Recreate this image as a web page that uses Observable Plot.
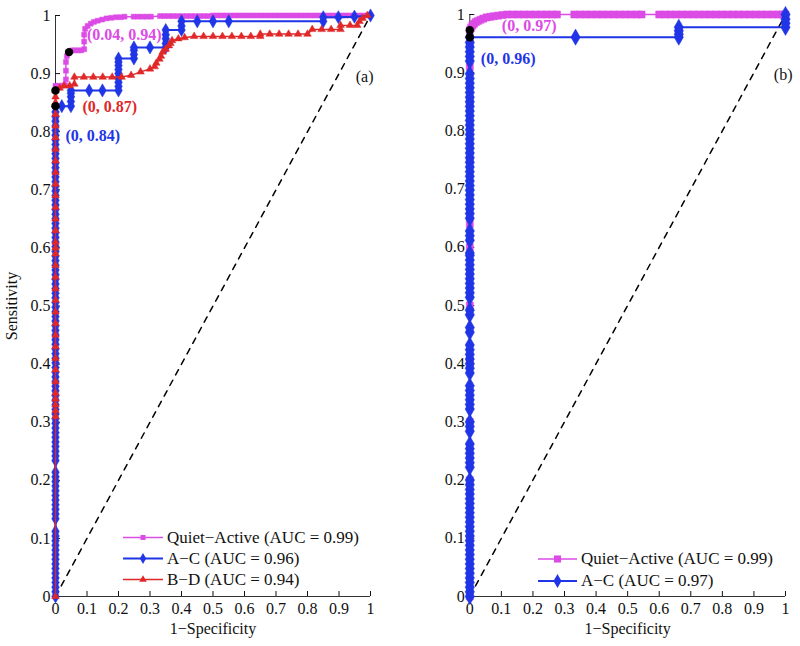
<!DOCTYPE html>
<html><head><meta charset="utf-8">
<script src="https://cdn.jsdelivr.net/npm/d3@7"></script>
<script src="https://cdn.jsdelivr.net/npm/@observablehq/plot@0.6"></script>
<style>
body{margin:0;background:#fff;}
#wrap{position:relative;width:800px;height:646px;display:flex;font-family:"Liberation Serif","Times New Roman",serif;}
.legend{position:absolute;font-size:17px;color:#111;}
.legend .row{display:flex;align-items:center;white-space:nowrap;}
</style></head><body><div id="wrap"></div><script>
// ---------- data ----------
const xTicks = [0,0.1,0.2,0.3,0.4,0.5,0.6,0.7,0.8,0.9,1];
const yTicks = [0,0.1,0.2,0.3,0.4,0.5,0.6,0.7,0.8,0.9,1];
const diagonal = [[0,0],[1,1]];

// Panel (a)
const quietActiveA = [[0,0],[0,0.1],[0,0.2],[0,0.3],[0,0.36],[0,0.45],[0,0.55],[0,0.65],[0,0.75],[0,0.82],[0,0.879],[0.01,0.879],[0.02,0.879],[0.03,0.88],[0.033,0.89],[0.033,0.905],[0.033,0.92],[0.036,0.93],[0.043,0.937],[0.052,0.94],[0.062,0.94],[0.072,0.94],[0.082,0.94],[0.091,0.942],[0.091,0.955],[0.091,0.967],[0.094,0.977],[0.102,0.982],[0.112,0.986],[0.122,0.989],[0.134,0.991],[0.148,0.993],[0.162,0.995],[0.177,0.996],[0.192,0.997],[0.207,0.997],[0.219,0.998],[0.248,0.998],[0.262,0.998],[0.276,0.998],[0.29,0.998],[0.303,0.998],[0.332,0.999],[0.346,0.999],[0.36,0.999],[0.374,0.999],[0.388,0.999],[0.402,0.999],[0.416,0.999],[0.43,0.999],[0.444,0.999],[0.458,0.999],[0.472,0.999],[0.486,0.999],[0.5,1],[0.514,1],[0.528,1],[0.542,1],[0.556,1],[0.57,1],[0.584,1],[0.598,1],[0.612,1],[0.626,1],[0.64,1],[0.654,1],[0.668,1],[0.682,1],[0.696,1],[0.71,1],[0.724,1],[0.738,1],[0.752,1],[0.766,1],[0.78,1],[0.794,1],[0.808,1],[0.822,1],[0.836,1],[0.85,1],[0.864,1],[0.878,1],[0.892,1],[0.906,1],[0.92,1],[0.934,1],[0.948,1],[0.962,1],[0.976,1],[0.99,1],[1,1]];
// A-C, sensitivities reached at 1-specificity = 0
const acA_atZero = [0,0.008,0.016,0.024,0.032,0.04,0.048,0.056,0.064,0.072,0.08,0.088,0.096,0.104,0.112,0.134,0.142,0.15,0.158,0.166,0.174,0.182,0.19,0.198,0.206,0.214,0.234,0.242,0.25,0.258,0.266,0.274,0.282,0.29,0.298,0.306,0.314,0.322,0.33,0.338,0.346,0.354,0.362,0.37,0.378,0.386,0.394,0.402,0.41,0.418,0.426,0.434,0.442,0.45,0.458,0.466,0.474,0.482,0.49,0.498,0.506,0.514,0.522,0.53,0.538,0.546,0.554,0.562,0.57,0.578,0.586,0.594,0.602,0.61,0.618,0.626,0.634,0.642,0.65,0.658,0.666,0.674,0.682,0.69,0.698,0.706,0.714,0.722,0.73,0.738,0.746,0.754,0.762,0.77,0.778,0.786,0.794,0.802,0.81,0.818,0.826,0.834,0.844];
const acA_rest = [[0.02,0.844],[0.049,0.844],[0.049,0.852],[0.049,0.86],[0.049,0.866],[0.049,0.871],[0.107,0.871],[0.149,0.871],[0.2,0.871],[0.2,0.878],[0.2,0.885],[0.2,0.892],[0.2,0.9],[0.2,0.907],[0.2,0.914],[0.2,0.92],[0.2,0.926],[0.249,0.926],[0.249,0.933],[0.249,0.94],[0.249,0.945],[0.3,0.945],[0.35,0.945],[0.35,0.952],[0.35,0.96],[0.35,0.967],[0.35,0.975],[0.4,0.975],[0.4,0.982],[0.4,0.99],[0.45,0.99],[0.5,0.99],[0.55,0.99],[0.85,0.99],[0.85,0.997],[0.898,0.997],[0.949,0.998],[1,1]];
const bdA = [[0,0],[0,0.31],[0,0.32],[0,0.33],[0,0.34],[0,0.35],[0,0.37],[0,0.39],[0,0.41],[0,0.43],[0,0.45],[0,0.47],[0,0.49],[0,0.51],[0,0.53],[0,0.55],[0,0.57],[0,0.59],[0,0.6],[0,0.61],[0,0.63],[0,0.65],[0,0.67],[0,0.69],[0,0.71],[0,0.73],[0,0.75],[0,0.77],[0,0.79],[0,0.81],[0,0.83],[0,0.85],[0,0.86],[0,0.871],[0.013,0.875],[0.027,0.879],[0.045,0.879],[0.06,0.882],[0.06,0.894],[0.09,0.894],[0.12,0.894],[0.15,0.894],[0.18,0.894],[0.21,0.894],[0.24,0.897],[0.27,0.903],[0.3,0.908],[0.315,0.912],[0.32,0.918],[0.33,0.925],[0.335,0.93],[0.34,0.937],[0.35,0.942],[0.36,0.948],[0.365,0.952],[0.37,0.957],[0.39,0.96],[0.41,0.962],[0.44,0.964],[0.47,0.964],[0.5,0.964],[0.53,0.964],[0.56,0.964],[0.59,0.964],[0.62,0.964],[0.65,0.964],[0.65,0.968],[0.68,0.968],[0.71,0.968],[0.74,0.968],[0.77,0.968],[0.8,0.968],[0.815,0.976],[0.845,0.976],[0.875,0.976],[0.905,0.976],[0.905,0.983],[0.935,0.983],[0.958,0.983],[0.965,0.99],[0.975,0.995],[0.99,1]];
const cutoffsA = [[0.043,0.937],[0,0.871],[0,0.844]];
const labelsA = ["(0.04, 0.94)","(0, 0.87)","(0, 0.84)"];
const legendA = ["Quiet\u2212Active (AUC = 0.99)","A\u2212C (AUC = 0.96)","B\u2212D (AUC = 0.94)"];

// Panel (b)
const quietActiveB = [[0,0],[0,0.1],[0,0.2],[0,0.3],[0,0.4],[0,0.5],[0,0.6],[0,0.64],[0,0.75],[0,0.85],[0,0.91],[0,0.95],[0,0.973],[0.004,0.977],[0.008,0.981],[0.013,0.984],[0.019,0.987],[0.026,0.989],[0.034,0.991],[0.043,0.993],[0.053,0.995],[0.064,0.996],[0.076,0.997],[0.089,0.998],[0.103,0.999],[0.118,1],[0.136,1],[0.154,1],[0.172,1],[0.19,1],[0.208,1],[0.226,1],[0.244,1],[0.262,1],[0.276,1],[0.331,1],[0.349,1],[0.367,1],[0.385,1],[0.403,1],[0.421,1],[0.439,1],[0.457,1],[0.475,1],[0.493,1],[0.511,1],[0.529,1],[0.544,1],[0.6,1],[0.618,1],[0.636,1],[0.654,1],[0.672,1],[0.69,1],[0.708,1],[0.726,1],[0.744,1],[0.762,1],[0.78,1],[0.798,1],[0.816,1],[0.834,1],[0.852,1],[0.87,1],[0.888,1],[0.906,1],[0.924,1],[0.942,1],[0.96,1],[0.978,1],[0.99,1],[1,1]];
const acB_atZero = [0,0.008,0.016,0.024,0.032,0.04,0.048,0.056,0.064,0.072,0.08,0.088,0.096,0.104,0.112,0.12,0.128,0.136,0.144,0.152,0.16,0.168,0.176,0.184,0.192,0.2,0.222,0.23,0.238,0.246,0.254,0.262,0.284,0.292,0.3,0.322,0.33,0.338,0.346,0.354,0.362,0.384,0.392,0.4,0.408,0.416,0.424,0.432,0.454,0.462,0.484,0.492,0.514,0.522,0.53,0.538,0.546,0.554,0.562,0.57,0.578,0.586,0.59,0.612,0.62,0.628,0.65,0.658,0.666,0.674,0.682,0.69,0.698,0.706,0.714,0.722,0.73,0.738,0.746,0.754,0.762,0.77,0.778,0.786,0.794,0.802,0.81,0.818,0.826,0.834,0.842,0.85,0.858,0.866,0.874,0.882,0.89,0.898,0.92,0.928,0.936,0.944,0.952,0.961];
const acB_rest = [[0.335,0.961],[0.662,0.961],[0.662,0.966],[0.662,0.972],[0.662,0.978],[1,0.978],[1,0.985],[1,0.992],[1,1]];
const cutoffsB = [[0,0.973],[0,0.961]];
const labelsB = ["(0, 0.97)","(0, 0.96)"];
const legendB = ["Quiet\u2212Active (AUC = 0.99)","A\u2212C (AUC = 0.97)"];

const acA = [...acA_atZero.map(y => [0, y]), ...acA_rest];
const acB = [...acB_atZero.map(y => [0, y]), ...acB_rest];

// ---------- styling ----------
const MAG = "#dc4be6", BLUE = "#1f35e6", RED = "#e02828";
const fmt = d => String(d);
const FONT = "Liberation Serif, Times New Roman, serif";

function series(data, color, symbol, r, lw) {
  return [
    Plot.line(data, {x: d => d[0], y: d => d[1], stroke: color, strokeWidth: lw}),
    Plot.dot(data, {x: d => d[0], y: d => d[1], symbol, r, fill: color, stroke: color, strokeWidth: 0.5})
  ];
}
function annot(pts, texts, colors, offsets) {
  return pts.map((p, i) => Plot.text([p], {x: d => d[0], y: d => d[1], text: () => texts[i], fill: colors[i],
    fontWeight: "bold", fontSize: 16, textAnchor: "start", dx: offsets[i][0], dy: offsets[i][1]}));
}

function panel(opts) {
  return Plot.plot({
    width: 400, height: 646,
    marginTop: opts.mt, marginBottom: 50, marginLeft: opts.ml, marginRight: opts.mr,
    x: {domain: [0, 1]}, y: {domain: [0, 1]},
    style: {fontFamily: FONT, fontSize: "16px", background: "white", color: "#111"},
    marks: [
      Plot.ruleX([0], {stroke: "#333"}),
      Plot.ruleY([0], {stroke: "#333"}),
      Plot.axisX({ticks: xTicks, tickSize: -5, tickPadding: 11, tickFormat: fmt, fontSize: 16,
        label: "1\u2212Specificity", labelAnchor: "center", labelArrow: "none", labelOffset: 37}),
      Plot.axisY({ticks: yTicks, tickSize: -5, tickPadding: 10, tickFormat: fmt, fontSize: 16,
        label: opts.ylabel, labelAnchor: "center", labelArrow: "none", labelOffset: 50}),
      Plot.line(diagonal, {x: d => d[0], y: d => d[1], stroke: "#000", strokeWidth: 1.5, strokeDasharray: "6,6"}),
      ...opts.series,
      Plot.dot(opts.cutoffs, {x: d => d[0], y: d => d[1], r: 4.2, fill: "#000"}),
      ...opts.annots,
      Plot.text([opts.tag], {frameAnchor: "top-right", textAnchor: "end", dx: opts.tagDx, dy: opts.tagDy, fontSize: 16})
    ]
  });
}

const plotA = panel({
  mt: 15, ml: 55, mr: 30, ylabel: "Sensitivity", tag: "(a)", tagDx: 3, tagDy: 55,
  series: [...series(quietActiveA, MAG, "square", 2.8, 1.5), ...series(acA, BLUE, "diamond", 4, 2), ...series(bdA, RED, "triangle", 2.8, 1.5)],
  cutoffs: cutoffsA,
  annots: annot(cutoffsA, labelsA, [MAG, RED, BLUE], [[18,-17],[27,16],[10,30]])
});
const plotB = panel({
  mt: 14, ml: 69.3, mr: 15, ylabel: null, tag: "(b)", tagDx: 7, tagDy: 54,
  series: [...series(quietActiveB, MAG, "square", 4, 1.5), ...series(acB, BLUE, "diamond", 4.9, 2)],
  cutoffs: cutoffsB,
  annots: annot(cutoffsB, labelsB, [MAG, BLUE], [[32,-4],[11,22]])
});
const wrap = document.getElementById("wrap");
wrap.append(plotA, plotB);

// ---------- legends ----------
function legend(left, top, rowH, items, sampleW) {
  const div = document.createElement("div");
  div.className = "legend";
  div.style.left = left + "px"; div.style.top = top + "px";
  items.forEach(it => {
    const row = document.createElement("div");
    row.className = "row"; row.style.height = rowH + "px";
    const svg = d3.create("svg").attr("width", sampleW).attr("height", rowH).style("margin-right", "4px");
    svg.append("line").attr("x1", 0).attr("x2", sampleW).attr("y1", rowH/2).attr("y2", rowH/2)
      .attr("stroke", it.color).attr("stroke-width", it.lw);
    svg.append("path").attr("d", d3.symbol().type(it.sym).size(Math.PI*it.r*it.r)())
      .attr("transform", `translate(${sampleW/2},${rowH/2})`).attr("fill", it.color);
    row.append(svg.node());
    const t = document.createElement("span"); t.textContent = it.label; row.append(t);
    div.append(row);
  });
  wrap.append(div);
}
legend(123, 527, 21, [
  {label: legendA[0], color: MAG, sym: d3.symbolSquare, r: 2.8, lw: 1.5},
  {label: legendA[1], color: BLUE, sym: d3.symbolDiamond, r: 3.3, lw: 2},
  {label: legendA[2], color: RED, sym: d3.symbolTriangle, r: 2.8, lw: 1.5}
], 40);
legend(538, 548, 22, [
  {label: legendB[0], color: MAG, sym: d3.symbolSquare, r: 4, lw: 1.5},
  {label: legendB[1], color: BLUE, sym: d3.symbolDiamond, r: 4.2, lw: 2}
], 39);
</script></body></html>
